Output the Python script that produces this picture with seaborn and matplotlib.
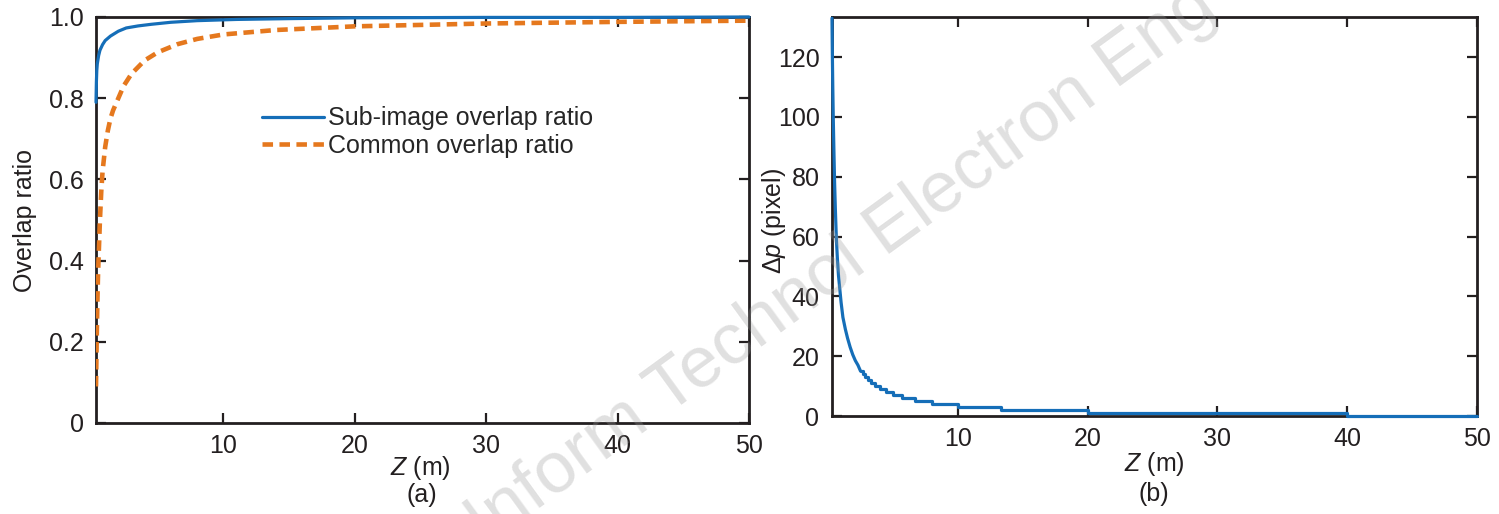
import numpy as np
import pandas as pd
import matplotlib
matplotlib.use('Agg')
import matplotlib.pyplot as plt
import seaborn as sns

# values
sub_z = [0.3, 0.33, 0.36, 0.4, 0.5, 0.6, 0.8, 1.0, 1.4, 2.0, 2.6, 3.5, 4.5,
         6.0, 8.0, 11, 15, 20, 30, 40, 50]
sub_ratio = [0.79, 0.84, 0.868, 0.885, 0.905, 0.918, 0.932, 0.942, 0.953, 0.965,
             0.973, 0.978, 0.982, 0.987, 0.991, 0.994, 0.996, 0.998, 0.999, 0.999, 1.0]

common_z = [0.3, 0.35, 0.4, 0.45, 0.5, 0.6, 0.7, 0.8, 1.0, 1.2, 1.4, 1.6, 2.0,
            2.4, 3.0, 4.0, 5.0, 6.5, 8.0, 10, 14, 20, 30, 40, 50]
common_ratio = [0.09, 0.2, 0.29, 0.36, 0.41, 0.5, 0.57, 0.62, 0.68, 0.72, 0.75,
                0.77, 0.80, 0.83, 0.86, 0.893, 0.913, 0.933, 0.946, 0.957, 0.968,
                0.977, 0.984, 0.988, 0.991]

# delta p: smooth-looking part at small Z, then whole-pixel steps
dp_z = [0.3, 0.33, 0.36, 0.4, 0.45, 0.5, 0.56, 0.63, 0.71, 0.8, 0.91, 1.0, 1.14,
        1.33, 1.5, 1.7, 1.9, 2.1, 2.3, 2.5]
dp_pix = [133, 120, 110, 99, 88, 78, 69, 60, 53, 47, 42, 38, 33, 29, 26, 23,
          20.5, 18.5, 17, 15]
dp_step_z = [2.5, 2.67, 2.86, 3.08, 3.33, 3.64, 4.0, 4.44, 5.0, 5.71, 6.67, 8.0,
             10.0, 13.33, 20.0, 40.0, 50.0]
dp_step_pix = [15, 14, 13, 12, 11, 10, 9, 8, 7, 6, 5, 4, 3, 2, 1, 0, 0]

xticks = [10, 20, 30, 40, 50]
yticks_a = [0, 0.2, 0.4, 0.6, 0.8, 1.0]
yticklabels_a = ['0', '0.2', '0.4', '0.6', '0.8', '1.0']
yticks_b = [0, 20, 40, 60, 80, 100, 120]

sns.set_theme(style='ticks')
plt.rcParams['font.family'] = ['Liberation Sans', 'DejaVu Sans']
plt.rcParams['mathtext.fontset'] = 'custom'
plt.rcParams['mathtext.rm'] = 'Liberation Sans'
plt.rcParams['mathtext.it'] = 'Liberation Sans:italic'

blue = '#156EB8'
orange = '#E5781E'
ink = '#231f20'
fs = 18

fig = plt.figure(figsize=(14.99, 5.14), dpi=100)
ax1 = fig.add_axes([96 / 1499, 1 - 423 / 514, (749 - 96) / 1499, (423 - 17) / 514])
ax2 = fig.add_axes([832 / 1499, 1 - 416 / 514, (1477 - 832) / 1499, (416 - 17) / 514])

sns.lineplot(x=sub_z, y=sub_ratio, ax=ax1, color=blue, lw=2.3,
             label='Sub-image overlap ratio', clip_on=False, zorder=5)
sns.lineplot(x=common_z, y=common_ratio, ax=ax1, color=orange, lw=3.3,
             linestyle='--', label='Common overlap ratio', zorder=4)
ax1.lines[-1].set_dashes([2.3, 1.4])

sns.lineplot(x=dp_z, y=dp_pix, ax=ax2, color=blue, lw=2.3, clip_on=False, zorder=5)
sns.lineplot(x=dp_step_z, y=dp_step_pix, ax=ax2, color=blue, lw=2.3,
             drawstyle='steps-post', clip_on=False, zorder=5)

for ax in (ax1, ax2):
    ax.set_xlim(0.3, 50)
    ax.set_xticks(xticks)
    ax.tick_params(direction='in', length=7, width=1.6, top=True, right=True,
                   labelsize=fs, colors=ink)
    ax.tick_params(axis='x', pad=8)
    ax.tick_params(axis='y', pad=9)
    for s in ax.spines.values():
        s.set_linewidth(2.0)
        s.set_color(ink)
        s.set_zorder(3)

ax1.set_ylim(0, 1)
ax1.set_yticks(yticks_a)
ax1.set_yticklabels(yticklabels_a)
ax2.set_ylim(0, 133.4)
ax2.set_yticks(yticks_b)

ax1.set_xlabel('$Z$ (m)', fontsize=fs, color=ink)
ax2.set_xlabel('$Z$ (m)', fontsize=fs, color=ink)
ax1.set_ylabel('Overlap ratio', fontsize=fs, color=ink)
ax2.set_ylabel('Δ$p$ (pixel)', fontsize=fs, color=ink)
ax1.xaxis.set_label_coords(0.496, -0.076)
ax2.xaxis.set_label_coords(0.5, -0.085)
ax1.yaxis.set_label_coords(-0.091, 0.5)
ax2.yaxis.set_label_coords(-0.068, 0.49)

fig.text(422 / 1499, 1 - 495 / 514, '(a)', ha='center', va='center',
         fontsize=fs, color=ink)
fig.text(1154 / 1499, 1 - 494 / 514, '(b)', ha='center', va='center',
         fontsize=fs, color=ink)

ax1.legend(loc='upper left', bbox_to_anchor=(0.254, 0.78), frameon=False,
           fontsize=fs, handlelength=2.5, handletextpad=0.15, borderpad=0,
           borderaxespad=0, labelspacing=0.15)

fig.text(842 / 1499, 1 - 265 / 514, 'Inform Technol Electron Eng', rotation=36,
         ha='center', va='center', fontsize=52, color='#9a9a9a', alpha=0.3,
         zorder=10)

fig.savefig('out.png', dpi=100)
